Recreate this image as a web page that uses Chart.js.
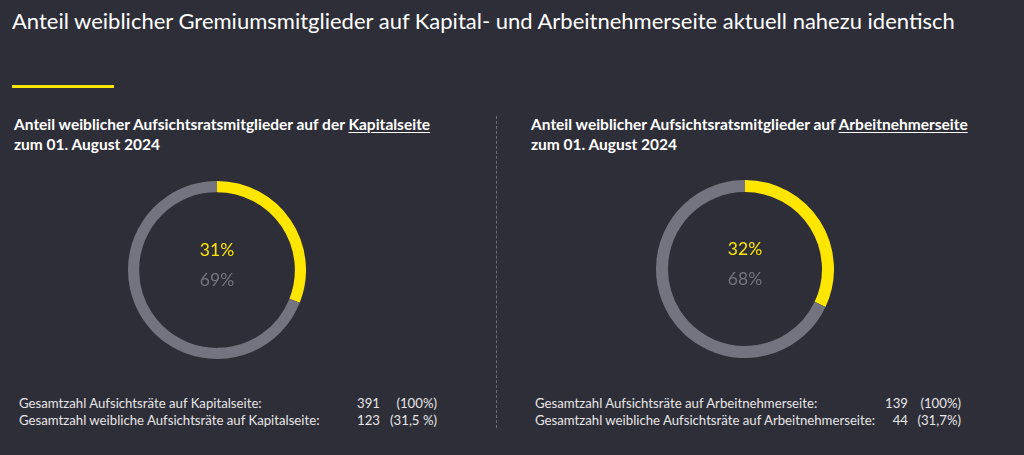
<!DOCTYPE html>
<html>
<head>
<meta charset="utf-8">
<script src="https://cdn.jsdelivr.net/npm/chart.js@4"></script>
<style>
  body { margin: 0; width: 1024px; height: 455px; background: #2e2e38; overflow: hidden; font-family: Lato, "Open Sans", sans-serif; color: #fff; }
  .abs { position: absolute; white-space: nowrap; }
  .title { left: 12px; top: 7px; font-size: 22px; color: #fff; }
  .accent { left: 12px; top: 85px; width: 102px; height: 3px; background: #ffe600; }
  .sub { font-size: 15.5px; font-weight: bold; line-height: 20px; color: #fff; }
  .sub u { text-decoration-thickness: 1px; text-underline-offset: 2px; }
  .divider { left: 496px; top: 116px; height: 312px; border-left: 1px dashed #6b6b78; }
  .foot { font-size: 13.2px; line-height: 17px; color: #e6e6e6; }
  canvas { position: absolute; }
</style>
</head>
<body>
<div class="abs title">Anteil weiblicher Gremiumsmitglieder auf Kapital- und Arbeitnehmerseite aktuell nahezu identisch</div>
<div class="abs accent"></div>
<div class="abs divider"></div>

<div class="abs sub" style="left:14px; top:114px;">Anteil weiblicher Aufsichtsratsmitglieder auf der <u>Kapitalseite</u><br>zum 01. August 2024</div>
<div class="abs sub" style="left:531px; top:114px;">Anteil weiblicher Aufsichtsratsmitglieder auf <u>Arbeitnehmerseite</u><br>zum 01. August 2024</div>

<canvas id="left" width="178" height="178" style="left:128px; top:181px;"></canvas>
<canvas id="right" width="178" height="178" style="left:656px; top:180px;"></canvas>

<div id="footLeft" class="abs foot" style="left:19px; top:395px;"></div>
<div id="footRight" class="abs foot" style="left:535px; top:395px;"></div>

<script>
// donut shares (percent), as printed in the chart centre
const segments = ["weiblich", "männlich"];
const kapitalShares = [31, 69];
const arbeitnehmerShares = [32, 68];

// footnote table
const kapitalRows = ["Gesamtzahl Aufsichtsräte auf Kapitalseite:", "Gesamtzahl weibliche Aufsichtsräte auf Kapitalseite:"];
const kapitalCounts = [391, 123];
const kapitalPct = ["(100%)", "(31,5 %)"];
const arbeitnehmerRows = ["Gesamtzahl Aufsichtsräte auf Arbeitnehmerseite:", "Gesamtzahl weibliche Aufsichtsräte auf Arbeitnehmerseite:"];
const arbeitnehmerCounts = [139, 44];
const arbeitnehmerPct = ["(100%)", "(31,7%)"];

const YELLOW = "#ffe600";
const GREY = "#747480";

const centerText = {
  id: "centerText",
  afterDraw(chart) {
    const ctx = chart.ctx;
    const vals = chart.data.datasets[0].data;
    const x = chart.width / 2;
    const y = chart.height / 2;
    ctx.save();
    ctx.textAlign = "center";
    ctx.textBaseline = "middle";
    ctx.font = "17.5px Lato, 'Open Sans', sans-serif";
    ctx.fillStyle = YELLOW;
    ctx.fillText(vals[0] + "%", x, y - 20);
    ctx.fillStyle = GREY;
    ctx.fillText(vals[1] + "%", x, y + 10);
    ctx.restore();
  },
};

function drawDonut(id, shares, cut) {
  new Chart(document.getElementById(id), {
    type: "doughnut",
    data: {
      labels: segments,
      datasets: [{
        data: shares,
        backgroundColor: [YELLOW, GREY],
        borderWidth: 0,
      }],
    },
    options: {
      responsive: false,
      animation: false,
      cutout: cut,
      layout: { padding: 0 },
      plugins: { legend: { display: false }, tooltip: { enabled: false } },
    },
    plugins: [centerText],
  });
}

drawDonut("left", kapitalShares, "87.5%");
drawDonut("right", arbeitnehmerShares, "86.5%");

function fillFoot(id, rows, counts, pct, numRight, pctRight) {
  const el = document.getElementById(id);
  let html = "";
  rows.forEach((r, i) => {
    html += `<div style="position:relative;height:17px;width:${pctRight}px">
      <span style="position:absolute;left:0">${r}</span>
      <span style="position:absolute;right:${pctRight - numRight}px">${counts[i]}</span>
      <span style="position:absolute;right:0">${pct[i]}</span></div>`;
  });
  el.innerHTML = html;
}

fillFoot("footLeft", kapitalRows, kapitalCounts, kapitalPct, 361, 418);
fillFoot("footRight", arbeitnehmerRows, arbeitnehmerCounts, arbeitnehmerPct, 373, 426);
</script>
</body>
</html>
